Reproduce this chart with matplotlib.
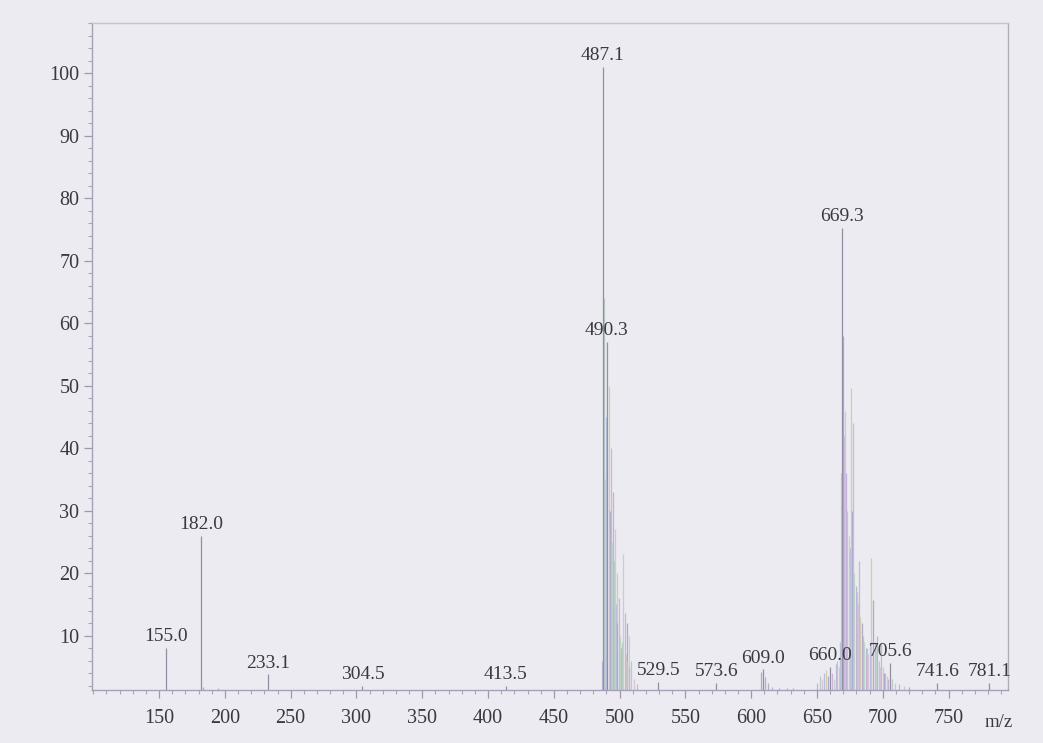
import matplotlib
matplotlib.use("Agg")
import matplotlib.pyplot as plt
from matplotlib.ticker import MultipleLocator

# ---- data ----
label_mz = [155.0, 182.0, 233.1, 304.5, 413.5, 487.1, 490.3, 529.5, 573.6,
            609.0, 660.0, 669.3, 705.6, 741.6, 781.1]
label_int = [8.0, 26.0, 3.8, 1.9, 1.9, 101.0, 57.0, 2.6, 2.5,
             4.6, 5.0, 75.2, 5.6, 2.4, 2.4]

cluster1_mz = [486.4, 487.8, 488.6, 489.4, 491.6, 492.4, 493.2, 494.0, 494.7,
               495.4, 496.2, 497.0, 497.7, 498.4, 499.2, 500.0, 501.0, 502.0,
               502.5, 503.8, 504.5, 505.3, 506.0, 506.8, 507.5, 508.3, 510.6,
               512.9]
cluster1_int = [6.0, 64.0, 35.0, 45.0, 50.0, 30.0, 40.0, 25.0, 33.0,
                22.0, 27.0, 15.0, 20.0, 12.0, 16.0, 10.0, 8.0, 9.0,
                23.0, 13.6, 7.0, 12.0, 6.0, 10.0, 5.0, 6.0, 3.0,
                2.2]

cluster2_mz = [650.0, 652.0, 654.0, 655.5, 657.0, 658.5, 661.5, 663.0, 664.5,
               665.5, 666.5, 667.3, 668.2, 670.0, 670.8, 671.6, 672.4, 673.2,
               674.0, 674.8, 676.1, 676.9, 677.6, 678.5, 679.3, 680.2, 681.0,
               682.2, 683.0, 684.0, 685.0, 686.0, 687.0, 688.0, 689.0, 690.0,
               691.3, 692.8, 693.8, 694.8, 695.8, 696.8, 697.8, 698.8, 700.0,
               701.0, 702.0, 703.0, 704.0, 707.0, 709.0, 712.0, 716.0, 720.0]
cluster2_int = [2.5, 3.5, 3.0, 4.0, 4.5, 3.5, 4.0, 3.0, 5.5,
                6.0, 5.0, 9.0, 36.0, 58.0, 42.0, 46.0, 36.0, 30.0,
                26.0, 24.0, 49.6, 30.0, 44.0, 20.0, 18.0, 17.0, 15.0,
                22.0, 13.0, 12.0, 10.0, 9.0, 8.0, 8.0, 7.0, 9.0,
                22.4, 15.7, 9.0, 8.0, 10.0, 6.0, 5.0, 9.0, 5.0,
                4.0, 4.0, 3.5, 3.0, 3.0, 2.5, 2.2, 2.0, 1.8]

minor_mz = [183.0, 195.0, 607.5, 610.5, 612.5, 616.0, 621.0, 627.0, 632.0]
minor_int = [1.8, 1.7, 4.2, 3.4, 2.4, 1.8, 1.6, 1.6, 1.6]

x_ticks = [150, 200, 250, 300, 350, 400, 450, 500, 550, 600, 650, 700, 750]
y_ticks = [10, 20, 30, 40, 50, 60, 70, 80, 90, 100]

# ---- style ----
bg = "#ecebf1"
txt = "#3a3942"
serif = ["Liberation Serif", "DejaVu Serif"]
plt.rcParams["font.family"] = serif

fig = plt.figure(figsize=(10.43, 7.43), dpi=100, facecolor=bg)
ax = fig.add_axes([0.0882, 0.0713, 0.878, 0.8977])
ax.set_facecolor(bg)

ymin, ymax = 1.3, 108
ax.set_xlim(99, 795)
ax.set_ylim(ymin, ymax)

pastels = ["#c2b2d8", "#b4cec2", "#dcc2d3", "#b6bfe0", "#d2ccae", "#aeaacb",
           "#cdb6dc", "#bdd6cc"]

def draw(mzs, ints, colors, lw, alpha=1.0):
    for i, (m, v) in enumerate(zip(mzs, ints)):
        ax.vlines(m, ymin, v, colors=colors[i % len(colors)], linewidth=lw,
                  alpha=alpha)

draw(cluster1_mz, cluster1_int, pastels, 0.9)
draw(cluster2_mz, cluster2_int, pastels, 0.9)
draw(minor_mz, minor_int, ["#b8a9c8", "#a9b8c6"], 0.9)
draw(label_mz, label_int, ["#938ea6"], 0.9)

for m, v in zip(label_mz, label_int):
    ax.annotate(f"{m:.1f}", xy=(m, v), xytext=(0, 2), textcoords="offset points",
                ha="center", va="bottom", fontsize=14, color=txt)

# axes styling
for side, col in [("left", "#a5a1b5"), ("bottom", "#a79fba"),
                  ("top", "#c8c0d6"), ("right", "#b0adbb")]:
    ax.spines[side].set_color(col)
    ax.spines[side].set_linewidth(1.0)

ax.set_xticks(x_ticks)
ax.set_yticks(y_ticks)
ax.xaxis.set_minor_locator(MultipleLocator(10))
ax.yaxis.set_minor_locator(MultipleLocator(2))
ax.tick_params(axis="both", which="major", direction="out", length=6,
               width=0.9, color="#9d98ad", labelsize=14.5, labelcolor=txt, pad=3)
ax.tick_params(axis="both", which="minor", direction="out", length=3,
               width=0.8, color="#aaa5b8")
ax.tick_params(axis="x", which="major", pad=8)

fig.text(0.958, 0.028, "m/z", ha="center", va="center", fontsize=13.5,
         color=txt, family=serif)

fig.savefig("out.png", dpi=100, facecolor=bg)
